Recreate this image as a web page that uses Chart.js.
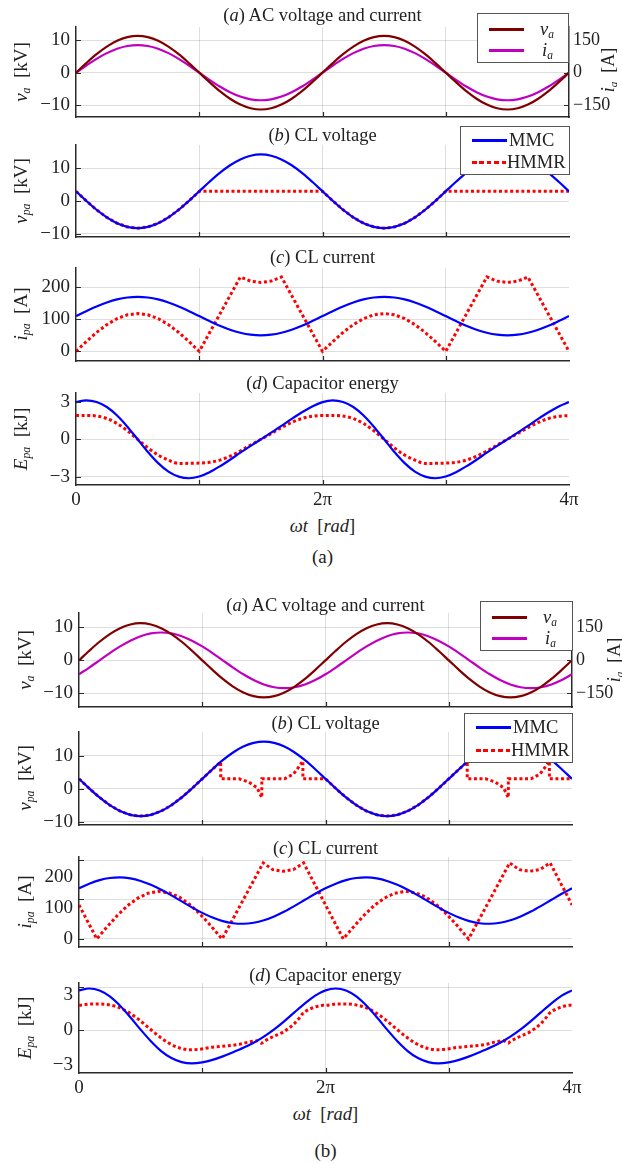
<!DOCTYPE html>
<html><head><meta charset="utf-8">
<script src="https://cdn.jsdelivr.net/npm/chart.js@4.4.1/dist/chart.umd.min.js"></script>
<style>
body{margin:0;background:#fff;width:622px;height:1163px;position:relative;overflow:hidden;font-family:"Liberation Serif","DejaVu Serif",serif;color:#222;}
canvas{position:absolute;left:0;}
.t{position:absolute;white-space:nowrap;font-size:18.5px;transform:translate(-50%,-50%);z-index:5;line-height:1;}
.yl{position:absolute;white-space:nowrap;font-size:19px;transform:translate(-50%,-50%) rotate(-90deg);z-index:5;line-height:1;}
.leg{position:absolute;background:#fff;border:1px solid #555;box-sizing:border-box;z-index:6;}
.row{position:absolute;left:0;right:0;height:20px;}
.sw{position:absolute;top:9px;height:2.5px;}
.lt{position:absolute;top:0;font-size:18.5px;line-height:20px;white-space:nowrap;}
sub{font-size:0.62em;vertical-align:-0.3em;}
</style></head>
<body>
<script>
// ---------------- data (phase in degrees; 360 deg = 2π) ----------------
const phaseDeg = [0,15,30,45,60,75,90,105,120,135,150,165,180,195,210,225,240,255,270,285,300,315,330,345,360,375,390,405,420,435,450,465,480,495,510,525,540,555,570,585,600,615,630,645,660,675,690,705,720];
const xTickDeg = [0,180,360,540,720];
const xTickText = ['0','','2π','','4π'];

// (a) case
const vaTop = [0,2.92,5.65,7.99,9.79,10.91,11.3,10.91,9.79,7.99,5.65,2.92,0,-2.92,-5.65,-7.99,-9.79,-10.91,-11.3,-10.91,-9.79,-7.99,-5.65,-2.92,0,2.92,5.65,7.99,9.79,10.91,11.3,10.91,9.79,7.99,5.65,2.92,0,-2.92,-5.65,-7.99,-9.79,-10.91,-11.3,-10.91,-9.79,-7.99,-5.65,-2.92,0];
const iaTop = [0,32.9,63.5,89.8,110,122.7,127,122.7,110,89.8,63.5,32.9,0,-32.9,-63.5,-89.8,-110,-122.7,-127,-122.7,-110,-89.8,-63.5,-32.9,0,32.9,63.5,89.8,110,122.7,127,122.7,110,89.8,63.5,32.9,0,-32.9,-63.5,-89.8,-110,-122.7,-127,-122.7,-110,-89.8,-63.5,-32.9,0];
const vpaMmc = [3,0.08,-2.65,-4.99,-6.79,-7.91,-8.3,-7.91,-6.79,-4.99,-2.65,0.08,3,5.92,8.65,10.99,12.79,13.91,14.3,13.91,12.79,10.99,8.65,5.92,3,0.08,-2.65,-4.99,-6.79,-7.91,-8.3,-7.91,-6.79,-4.99,-2.65,0.08,3,5.92,8.65,10.99,12.79,13.91,14.3,13.91,12.79,10.99,8.65,5.92,3];
const vpaHmmrTop = [3,0.08,-2.65,-4.99,-6.79,-7.91,-8.3,-7.91,-6.79,-4.99,-2.65,0.08,3,3,3,3,3,3,3,3,3,3,3,3,3,0.08,-2.65,-4.99,-6.79,-7.91,-8.3,-7.91,-6.79,-4.99,-2.65,0.08,3,3,3,3,3,3,3,3,3,3,3,3,3];
const ipaMmcTop = [110,125.5,140,152.4,162,168,170,168,162,152.4,140,125.5,110,94.5,80,67.6,58,52,50,52,58,67.6,80,94.5,110,125.5,140,152.4,162,168,170,168,162,152.4,140,125.5,110,94.5,80,67.6,58,52,50,52,58,67.6,80,94.5,110];
const ipaHmmrTop = [0,30.5,59,83.4,102.2,114,118,114,102.2,83.4,59,30.5,0,58,116,174,232,219,215,219,232,174,116,58,0,30.5,59,83.4,102.2,114,118,114,102.2,83.4,59,30.5,0,58,116,174,232,219,215,219,232,174,116,58,0];
const epaMmcTop = [2.97,3.11,2.98,2.58,1.9,1.01,0,-1.01,-1.9,-2.58,-2.98,-3.11,-2.97,-2.63,-2.16,-1.63,-1.07,-0.53,0,0.53,1.07,1.63,2.16,2.63,2.97,3.11,2.98,2.58,1.9,1.01,0,-1.01,-1.9,-2.58,-2.98,-3.11,-2.97,-2.63,-2.16,-1.63,-1.07,-0.53,0,0.53,1.07,1.63,2.16,2.63,2.97];
const epaHmmrTop = [1.9,1.91,1.86,1.66,1.26,0.68,0,-0.68,-1.26,-1.66,-1.93,-1.92,-1.9,-1.84,-1.66,-1.35,-0.93,-0.46,0,0.46,0.93,1.35,1.66,1.84,1.9,1.91,1.86,1.66,1.26,0.68,0,-0.68,-1.26,-1.66,-1.93,-1.92,-1.9,-1.84,-1.66,-1.35,-0.93,-0.46,0,0.46,0.93,1.35,1.66,1.84,1.9];

// (b) case
const vaBot = vaTop;
const iaBot = [-63.5,-32.9,0,32.9,63.5,89.8,110,122.7,127,122.7,110,89.8,63.5,32.9,0,-32.9,-63.5,-89.8,-110,-122.7,-127,-122.7,-110,-89.8,-63.5,-32.9,0,32.9,63.5,89.8,110,122.7,127,122.7,110,89.8,63.5,32.9,0,-32.9,-63.5,-89.8,-110,-122.7,-127,-122.7,-110,-89.8,-63.5];
const vpaHmmrBotX = [0,15,30,45,60,75,90,105,120,135,150,165,180,195,207,207,234,248,260,267,267,300,313,321,327,327,345,360,375,390,405,420,435,450,465,480,495,510,525,540,555,567,567,594,608,620,627,627,660,673,681,687,687,705,720];
const vpaHmmrBotY = [3,0.08,-2.65,-4.99,-6.79,-7.91,-8.3,-7.91,-6.79,-4.99,-2.65,0.08,3,5.92,8.13,3,3,2,0.3,-2.7,3,3,4.4,6.6,8.4,3,3,3,0.08,-2.65,-4.99,-6.79,-7.91,-8.3,-7.91,-6.79,-4.99,-2.65,0.08,3,5.92,8.13,3,3,2,0.3,-2.7,3,3,4.4,6.6,8.4,3,3,3];
const ipaMmcBot = [163.7,178.8,190.2,197.1,198.9,195.7,187.6,175.2,159.2,140.9,121.4,102.1,84.3,69.2,57.8,50.9,49.1,52.3,60.4,72.9,88.8,107.1,126.6,145.9,163.7,178.8,190.2,197.1,198.9,195.7,187.6,175.2,159.2,140.9,121.4,102.1,84.3,69.2,57.8,50.9,49.1,52.3,60.4,72.9,88.8,107.1,126.6,145.9,163.7];
const ipaHmmrBotX = [0,13,26,41,56,71,86,101,117,132,147,162,177,192,209,239,269,283,298,313,328,357,373,386,401,416,431,446,461,477,492,507,522,537,552,569,599,629,643,658,673,688,717,720];
const ipaHmmrBotY = [110,55,0,39,76,108,132,148,154,149,135,111,80,44,0,123,246,224,219,224,246,123,55,0,39,76,108,132,148,154,149,135,111,80,44,0,123,246,224,219,224,246,123,110];
const epaMmcBot = [3.37,3.53,3.36,2.85,2.05,1.07,0.01,-0.98,-1.82,-2.42,-2.77,-2.88,-2.79,-2.58,-2.28,-1.93,-1.55,-1.11,-0.59,0.03,0.74,1.51,2.26,2.92,3.37,3.53,3.36,2.85,2.05,1.07,0.01,-0.98,-1.82,-2.42,-2.77,-2.88,-2.79,-2.58,-2.28,-1.93,-1.55,-1.11,-0.59,0.03,0.74,1.51,2.26,2.92,3.37];
const epaHmmrBotX = [0,13,26,41,56,71,86,101,117,132,147,162,177,192,209,234,248,260,267,269,283,298,313,321,327,345,357,360,373,386,401,416,431,446,461,477,492,507,522,537,552,569,594,608,620,627,629,643,658,673,681,687,705,717,720];
const epaHmmrBotY = [2.09,2.19,2.21,2.16,1.95,1.54,0.93,0.2,-0.57,-1.17,-1.56,-1.71,-1.66,-1.51,-1.42,-1.25,-1.05,-0.95,-1.15,-1.05,-0.6,-0.2,0.45,0.95,1.4,1.95,2.1,2.09,2.19,2.21,2.16,1.95,1.54,0.93,0.2,-0.57,-1.17,-1.56,-1.71,-1.66,-1.51,-1.42,-1.25,-1.05,-0.95,-1.15,-1.05,-0.6,-0.2,0.45,0.95,1.4,1.95,2.1,2.09];

// tick values
const vTicks = [-10,0,10];
const iaTicks = [-150,0,150];
const iTicks = [0,100,200];
const eTicks = [-3,0,3];

// ---------------- helpers ----------------
const SERIF = '"Liberation Serif","DejaVu Serif",serif';
const GRID = 'rgba(0,0,0,0.13)';
const AX = '#2a2a2a';
const C_VA = '#800000', C_IA = '#c000c0', C_MMC = '#0000ff', C_HM = '#ff0000';
const fmt = v => (v < 0 ? '\u2212' + Math.abs(v) : String(v));
const pts = (xs, ys) => xs.map((x, i) => ({x, y: ys[i]}));
const noPad = s => { s.paddingTop = 0; s.paddingBottom = 0; s.paddingLeft = 0; s.paddingRight = 0; };

// inward tick marks (MATLAB style), positioned through the chart's own scales
const inTicks = {
  id: 'inTicks',
  afterDraw(chart) {
    const {ctx, chartArea: a, scales} = chart;
    ctx.save(); ctx.strokeStyle = AX; ctx.lineWidth = 1.2; ctx.beginPath();
    xTickDeg.slice(1, -1).forEach(v => {
      const px = Math.round(scales.x.getPixelForValue(v)) + 0.5;
      ctx.moveTo(px, a.bottom); ctx.lineTo(px, a.bottom - 5);
    });
    const ys = scales.yg || scales.y;
    ys.ticks.forEach(t => {
      const py = Math.round(ys.getPixelForValue(t.value)) + 0.5;
      if (py < a.top || py > a.bottom) return;
      ctx.moveTo(a.left, py); ctx.lineTo(a.left + 5, py);
    });
    if (scales.y2) scales.y2.ticks.forEach(t => {
      const py = Math.round(scales.y2.getPixelForValue(t.value)) + 0.5;
      ctx.moveTo(a.right, py); ctx.lineTo(a.right - 5, py);
    });
    ctx.stroke(); ctx.restore();
  }
};

function solid(xs, ys, color, axis) {
  return {data: pts(xs, ys), borderColor: color, borderWidth: 2.2, pointRadius: 0,
          cubicInterpolationMode: 'monotone', fill: false, yAxisID: axis || 'y'};
}
function dotted(xs, ys, jumps) {
  const d = {data: pts(xs, ys), borderColor: C_HM, borderWidth: 3, borderDash: [3, 2.6],
          pointRadius: 0, fill: false, yAxisID: 'y'};
  if (jumps) d.tension = 0; else d.cubicInterpolationMode = 'monotone';
  return d;
}

function panel(o) {
  const pad = 10, xh = o.xlabels ? 28 : 0;
  const h = (o.B - o.T) + pad + xh + 2;
  const cv = document.createElement('canvas');
  cv.width = 622; cv.height = h; cv.style.top = (o.T - pad) + 'px';
  document.body.appendChild(cv);
  const tickFont = {family: SERIF, size: 19};
  const scales = {
    x: {type: 'linear', min: 0, max: 720,
      afterBuildTicks: s => { s.ticks = xTickDeg.map(v => ({value: v})); },
      ticks: {display: !!o.xlabels, autoSkip: false, maxRotation: 0, padding: 4, color: '#222', font: tickFont,
              callback: (v) => xTickText[xTickDeg.indexOf(v)] || ''},
      grid: {color: c => (c.tick && (c.tick.value === 0 || c.tick.value === 720)) ? 'rgba(0,0,0,0)' : GRID, drawTicks: false},
      border: {color: AX, width: 1.5},
      afterFit: s => { s.height = xh; noPad(s); }},
    y: {position: 'left', min: o.ymin, max: o.ymax, weight: 1,
      afterBuildTicks: s => { s.ticks = o.yticks.map(v => ({value: v})); },
      ticks: {color: '#222', font: tickFont, padding: 6, callback: v => fmt(v)},
      grid: {display: !o.gridAxis, color: GRID, drawTicks: false},
      border: {color: AX, width: 1.5},
      afterFit: s => { s.width = o.L; noPad(s); }}
  };
  if (o.gridAxis) {
    scales.yg = {position: 'right', min: o.gridAxis.min, max: o.gridAxis.max,
      afterBuildTicks: s => { s.ticks = o.gridAxis.ticks.map(v => ({value: v})); },
      ticks: {display: false}, grid: {color: GRID, drawTicks: false}, border: {display: false},
      afterFit: s => { s.width = 0; noPad(s); }};
  }
  let padRight = 622 - o.R;
  if (o.right) {
    scales.y2 = {position: 'right', min: o.right.min, max: o.right.max,
      afterBuildTicks: s => { s.ticks = o.right.ticks.map(v => ({value: v})); },
      ticks: {color: '#222', font: {family: SERIF, size: 18}, padding: 4, callback: v => fmt(v)},
      grid: {drawOnChartArea: false, drawTicks: false},
      border: {color: AX, width: 1.5},
      afterFit: s => { s.width = 622 - o.R; noPad(s); }};
    padRight = 0;
  }
  new Chart(cv, {type: 'line', data: {datasets: o.datasets}, plugins: [inTicks],
    options: {responsive: false, animation: false, devicePixelRatio: 1,
      layout: {padding: {top: pad, bottom: 2, left: 0, right: padRight}},
      plugins: {legend: {display: false}, tooltip: {enabled: false}, title: {display: false}},
      scales}});
}

function text(html, x, y, cls, size) {
  const d = document.createElement('div');
  d.className = cls || 't'; d.innerHTML = html;
  d.style.left = x + 'px'; d.style.top = y + 'px';
  if (size) d.style.fontSize = size + 'px';
  document.body.appendChild(d);
}
function legend(x, y, w, h, items) {
  const d = document.createElement('div');
  d.className = 'leg';
  Object.assign(d.style, {left: x + 'px', top: y + 'px', width: w + 'px', height: h + 'px'});
  items.forEach((it) => {
    const r = document.createElement('div');
    r.className = 'row'; r.style.top = (it.dy) + 'px';
    const sw = document.createElement('div');
    sw.className = 'sw'; sw.style.left = '11px'; sw.style.width = '35px';
    if (it.dash) { sw.style.height = '3px'; sw.style.background = 'repeating-linear-gradient(to right,' + it.color + ' 0 4.5px, transparent 4.5px 7.5px)'; }
    else sw.style.background = it.color;
    const t = document.createElement('div');
    t.className = 'lt'; t.style.left = it.tx + 'px'; t.innerHTML = it.label;
    r.appendChild(sw); r.appendChild(t); d.appendChild(r);
  });
  document.body.appendChild(d);
}

// ---------------- figure (a) ----------------
const L1 = 76, R1 = 569, L2 = 79, R2 = 572;
panel({T: 27, B: 117, L: L1, R: R1, ymin: -13.6, ymax: 14.0, yticks: vTicks,
  right: {min: -204, max: 210, ticks: iaTicks},
  datasets: [solid(phaseDeg, vaTop, C_VA), solid(phaseDeg, iaTop, C_IA, 'y2')]});
panel({T: 145, B: 237, L: L1, R: R1, ymin: -11, ymax: 17.2, yticks: vTicks,
  datasets: [solid(phaseDeg, vpaMmc, C_MMC), dotted(phaseDeg, vpaHmmrTop, true)]});
panel({T: 268, B: 361, L: L1, R: R1, ymin: -30, ymax: 260, yticks: iTicks,
  datasets: [solid(phaseDeg, ipaMmcTop, C_MMC), dotted(phaseDeg, ipaHmmrTop, true)]});
panel({T: 393, B: 485, L: L1, R: R1, ymin: -3.65, ymax: 3.7, yticks: eTicks, xlabels: true,
  datasets: [solid(phaseDeg, epaMmcTop, C_MMC), dotted(phaseDeg, epaHmmrTop, false)]});

// ---------------- figure (b) ----------------
panel({T: 613, B: 707, L: L2, R: R2, ymin: -14.2, ymax: 14.4, yticks: vTicks,
  right: {min: -213, max: 216, ticks: iaTicks},
  datasets: [solid(phaseDeg, vaBot, C_VA), solid(phaseDeg, iaBot, C_IA, 'y2')]});
panel({T: 732, B: 825, L: L2, R: R2, ymin: -11, ymax: 17.2, yticks: vTicks,
  datasets: [solid(phaseDeg, vpaMmc, C_MMC), dotted(vpaHmmrBotX, vpaHmmrBotY, true)]});
panel({T: 857, B: 947, L: L2, R: R2, ymin: -26, ymax: 265, yticks: iTicks,
  gridAxis: {min: -20.3, max: 207.6, ticks: iTicks},
  datasets: [solid(phaseDeg, ipaMmcBot, C_MMC), dotted(ipaHmmrBotX, ipaHmmrBotY, true)]});
panel({T: 983, B: 1073, L: L2, R: R2, ymin: -3.7, ymax: 4.0, yticks: eTicks, xlabels: true,
  gridAxis: {min: -3.01, max: 3.29, ticks: [0, 3]},
  datasets: [solid(phaseDeg, epaMmcBot, C_MMC), dotted(epaHmmrBotX, epaHmmrBotY, false)]});

// ---------------- texts ----------------
const cx1 = (L1 + R1) / 2, cx2 = (L2 + R2) / 2;
text('(<i>a</i>) AC voltage and current', cx1, 15);
text('(<i>b</i>) CL voltage', cx1, 135);
text('(<i>c</i>) CL current', cx1, 257);
text('(<i>d</i>) Capacitor energy', cx1, 383);
text('<i>ωt</i> &nbsp;[<i>rad</i>]', cx1, 526);
text('(a)', cx1, 556, 't', 19);
text('<i>v<sub>a</sub></i>&nbsp;&nbsp;[kV]', 22, 72, 'yl');
text('<i>v<sub>pa</sub></i>&nbsp;&nbsp;[kV]', 22, 191, 'yl');
text('<i>i<sub>pa</sub></i>&nbsp;&nbsp;[A]', 22, 314, 'yl');
text('<i>E<sub>pa</sub></i>&nbsp;&nbsp;[kJ]', 22, 439, 'yl');
text('<i>i<sub>a</sub></i>&nbsp;&nbsp;[A]', 609, 70, 'yl', 18);

text('(<i>a</i>) AC voltage and current', cx2, 605);
text('(<i>b</i>) CL voltage', cx2, 723);
text('(<i>c</i>) CL current', cx2, 848);
text('(<i>d</i>) Capacitor energy', cx2, 975);
text('<i>ωt</i> &nbsp;[<i>rad</i>]', cx2, 1114);
text('(b)', cx2, 1150, 't', 19);
text('<i>v<sub>a</sub></i>&nbsp;&nbsp;[kV]', 26, 660, 'yl');
text('<i>v<sub>pa</sub></i>&nbsp;&nbsp;[kV]', 26, 778, 'yl');
text('<i>i<sub>pa</sub></i>&nbsp;&nbsp;[A]', 26, 902, 'yl');
text('<i>E<sub>pa</sub></i>&nbsp;&nbsp;[kJ]', 26, 1028, 'yl');
text('<i>i<sub>a</sub></i>&nbsp;&nbsp;[A]', 615, 660, 'yl', 18);

// ---------------- legends ----------------
legend(477, 13, 92, 50, [
  {dy: 5, color: C_VA, label: '<i>v<sub>a</sub></i>', tx: 62},
  {dy: 26, color: C_IA, label: '<i>i<sub>a</sub></i>', tx: 64}]);
legend(460, 126, 110, 49, [
  {dy: 3, color: C_MMC, label: 'MMC', tx: 48},
  {dy: 25, color: C_HM, dash: true, label: 'HMMR', tx: 46}]);
legend(480, 601, 93, 50, [
  {dy: 5, color: C_VA, label: '<i>v<sub>a</sub></i>', tx: 62},
  {dy: 26, color: C_IA, label: '<i>i<sub>a</sub></i>', tx: 64}]);
legend(464, 713, 109, 50, [
  {dy: 3, color: C_MMC, label: 'MMC', tx: 48},
  {dy: 26, color: C_HM, dash: true, label: 'HMMR', tx: 46}]);
</script>
</body></html>
